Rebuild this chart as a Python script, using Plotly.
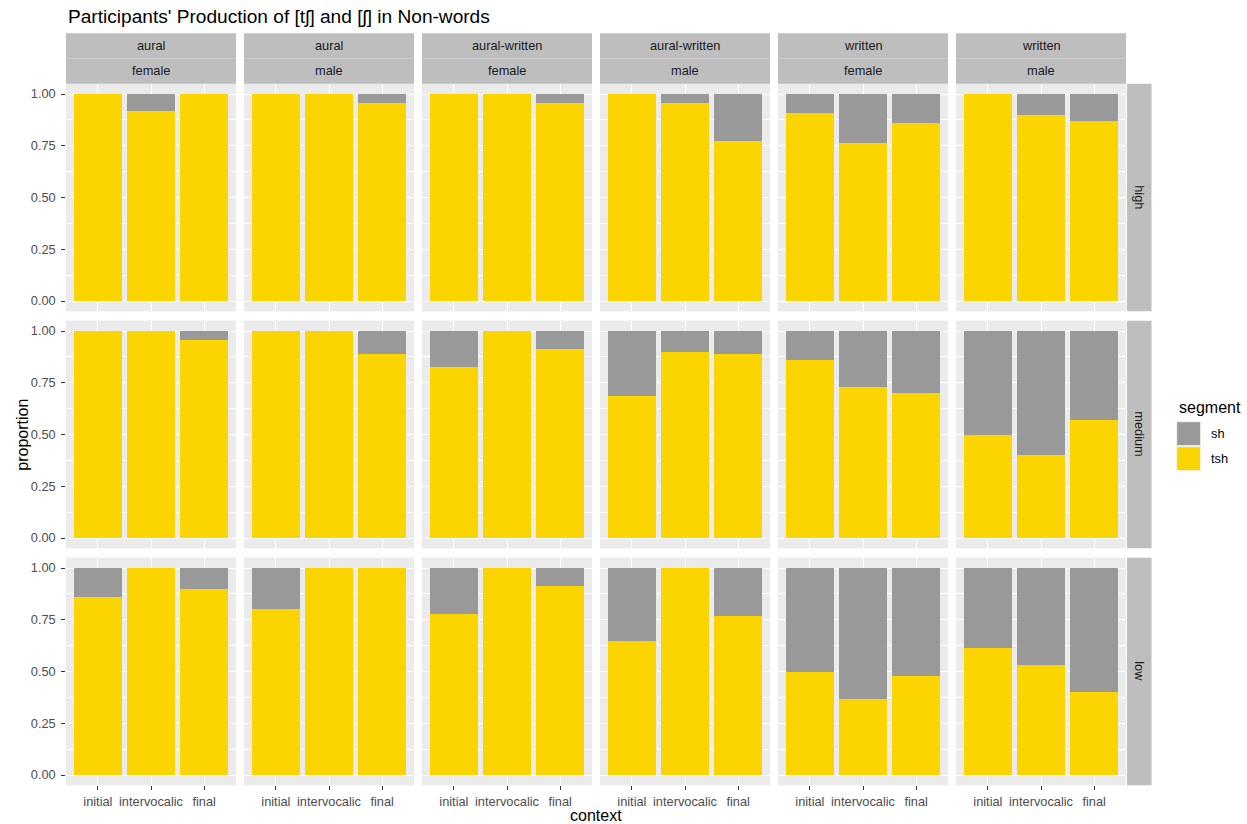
import plotly.graph_objects as go

# ---- data: proportion of [tʃ] ("tsh") productions; remainder is [ʃ] ("sh") ----
contexts = ["initial", "intervocalic", "final"]
col_modality = ["aural", "aural", "aural-written", "aural-written", "written", "written"]
col_gender = ["female", "male", "female", "male", "female", "male"]
freq_levels = ["high", "medium", "low"]

tsh_high = [
    [1.000, 0.917, 1.000],
    [1.000, 1.000, 0.958],
    [1.000, 1.000, 0.958],
    [1.000, 0.958, 0.773],
    [0.908, 0.762, 0.858],
    [1.000, 0.900, 0.870],
]
tsh_medium = [
    [1.000, 1.000, 0.957],
    [1.000, 1.000, 0.890],
    [0.826, 1.000, 0.913],
    [0.684, 0.897, 0.890],
    [0.860, 0.728, 0.702],
    [0.500, 0.400, 0.571],
]
tsh_low = [
    [0.858, 1.000, 0.900],
    [0.800, 1.000, 1.000],
    [0.780, 1.000, 0.912],
    [0.647, 1.000, 0.768],
    [0.500, 0.369, 0.480],
    [0.612, 0.531, 0.400],
]
tsh_by_level = {"high": tsh_high, "medium": tsh_medium, "low": tsh_low}

segments = ["sh", "tsh"]
seg_colors = {"sh": "#999999", "tsh": "#FCD400"}

# ---- page geometry (pixels) ----
W, H = 1247, 824
FONT = "Liberation Sans, Arial, Helvetica, sans-serif"
PANEL_BG = "#EBEBEB"
STRIP_BG = "#BEBEBE"

col_left = [66, 244, 422, 600, 778, 956]
col_w = 170
row_top = [83.65, 320.65, 557.65]
row_h = 227.7
strip_top, strip_mid = 33.3, 58.3
rstrip_x0, rstrip_x1 = 1127, 1151.5


def fx(x):
    return x / W


def fy(y):
    return 1 - y / H


fig = go.Figure()
layout_axes = {}

for r, level in enumerate(freq_levels):
    for c in range(6):
        k = r * 6 + c + 1
        xa = "x" if k == 1 else f"x{k}"
        ya = "y" if k == 1 else f"y{k}"
        tsh = tsh_by_level[level][c]
        sh = [round(1 - v, 3) for v in tsh]
        fig.add_trace(go.Bar(
            x=contexts, y=tsh, xaxis=xa, yaxis=ya, width=0.9,
            marker=dict(color=seg_colors["tsh"], line=dict(width=0)),
            name="tsh", showlegend=False,
        ))
        fig.add_trace(go.Bar(
            x=contexts, y=sh, xaxis=xa, yaxis=ya, width=0.9,
            marker=dict(color=seg_colors["sh"], line=dict(width=0)),
            name="sh", showlegend=False,
        ))

        bottom = r == 2
        left = c == 0
        x0 = col_left[c]
        y0 = row_top[r]
        layout_axes["xaxis" if k == 1 else f"xaxis{k}"] = dict(
            domain=[fx(x0), fx(x0 + col_w)], anchor=ya,
            type="category", categoryorder="array", categoryarray=contexts,
            range=[-0.6, 2.6], showgrid=True, gridcolor="white", gridwidth=1.07,
            zeroline=False, showline=False,
            ticks="outside" if bottom else "", ticklen=3.7, tickwidth=1.07,
            tickcolor="#333333", showticklabels=bottom, ticklabelstandoff=1,
            tickfont=dict(family=FONT, size=12.8, color="#4D4D4D"),
            fixedrange=True,
        )
        layout_axes["yaxis" if k == 1 else f"yaxis{k}"] = dict(
            domain=[fy(y0 + row_h), fy(y0)], anchor=xa,
            range=[-0.05, 1.05], tickvals=[0, 0.25, 0.5, 0.75, 1.0], tickformat=".2f",
            showgrid=True, gridcolor="white", gridwidth=1.07,
            minor=dict(tickvals=[0.125, 0.375, 0.625, 0.875], showgrid=True,
                       gridcolor="white", gridwidth=0.53, ticks=""),
            zeroline=False, showline=False,
            ticks="outside" if left else "", ticklen=3.7, tickwidth=1.07,
            tickcolor="#333333", showticklabels=left, ticklabelstandoff=3,
            tickfont=dict(family=FONT, size=12.8, color="#4D4D4D"),
            fixedrange=True,
        )

shapes = []
annotations = []

# column strips (modality over gender)
for c in range(6):
    x0 = col_left[c]
    for (ya0, ya1, label) in [(strip_top, strip_mid, col_modality[c]),
                              (strip_mid, row_top[0], col_gender[c])]:
        shapes.append(dict(type="rect", xref="paper", yref="paper",
                           x0=fx(x0), x1=fx(x0 + col_w), y0=fy(ya1), y1=fy(ya0),
                           fillcolor=STRIP_BG, line=dict(width=0)))
        annotations.append(dict(xref="paper", yref="paper", x=fx(x0 + col_w / 2),
                                y=fy((ya0 + ya1) / 2), text=label, showarrow=False,
                                xanchor="center", yanchor="middle",
                                font=dict(family=FONT, size=12.8, color="#1A1A1A")))

# row strips (frequency level)
for r, level in enumerate(freq_levels):
    y0 = row_top[r]
    shapes.append(dict(type="rect", xref="paper", yref="paper",
                       x0=fx(rstrip_x0), x1=fx(rstrip_x1), y0=fy(y0 + row_h), y1=fy(y0),
                       fillcolor=STRIP_BG, line=dict(width=0)))
    annotations.append(dict(xref="paper", yref="paper", x=fx((rstrip_x0 + rstrip_x1) / 2),
                            y=fy(y0 + row_h / 2), text=level, showarrow=False, textangle=90,
                            xanchor="center", yanchor="middle",
                            font=dict(family=FONT, size=12.8, color="#1A1A1A")))

# title and axis titles
annotations.append(dict(xref="paper", yref="paper", x=fx(66), y=fy(16.5),
                        text="Participants' Production of [tʃ] and [ʃ] in Non-words",
                        showarrow=False, xanchor="left", yanchor="middle",
                        font=dict(family=FONT, size=19.1, color="black")))
annotations.append(dict(xref="paper", yref="paper", x=fx((66 + 1126) / 2), y=fy(815),
                        text="context", showarrow=False, xanchor="center", yanchor="middle",
                        font=dict(family=FONT, size=16, color="black")))
annotations.append(dict(xref="paper", yref="paper", x=fx(21.7), y=fy(435),
                        text="proportion", showarrow=False, textangle=-90,
                        xanchor="center", yanchor="middle",
                        font=dict(family=FONT, size=16, color="black")))

# legend
annotations.append(dict(xref="paper", yref="paper", x=fx(1176.5), y=fy(407),
                        text="segment", showarrow=False, xanchor="left", yanchor="middle",
                        font=dict(family=FONT, size=16, color="black")))
key_tops = [421.7, 446.7]
for seg, kt in zip(segments, key_tops):
    shapes.append(dict(type="rect", xref="paper", yref="paper",
                       x0=fx(1176.7), x1=fx(1200.7), y0=fy(kt + 24), y1=fy(kt),
                       fillcolor=seg_colors[seg], line=dict(width=1, color="#F2F2F2")))
    annotations.append(dict(xref="paper", yref="paper", x=fx(1209.3), y=fy(kt + 12),
                            text=seg, showarrow=False, xanchor="left", yanchor="middle",
                            font=dict(family=FONT, size=12.8, color="black")))

fig.update_layout(
    width=W, height=H, autosize=False,
    margin=dict(l=0, r=0, t=0, b=0),
    paper_bgcolor="white", plot_bgcolor=PANEL_BG,
    barmode="stack", showlegend=False,
    shapes=shapes, annotations=annotations,
    **layout_axes,
)

fig.write_html("out.html")
